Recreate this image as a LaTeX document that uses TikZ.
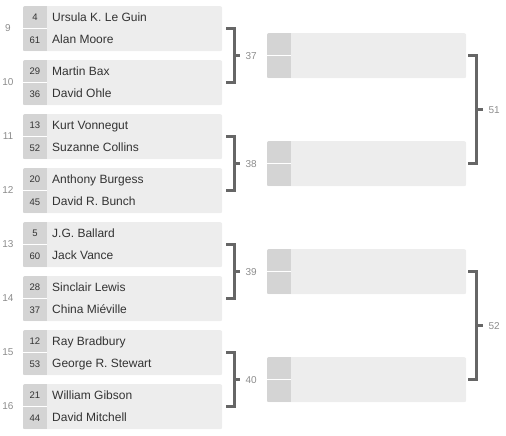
\documentclass[tikz,border=0pt]{standalone}
\usepackage{fontspec}
\setmainfont{Liberation Sans}
\usetikzlibrary{calc}
\definecolor{boxbg}{HTML}{EDEDED}
\definecolor{seedbg}{HTML}{D4D4D4}
\definecolor{txt}{HTML}{333333}
\definecolor{lbl}{HTML}{8C8C8C}
\definecolor{brk}{HTML}{666666}
\tikzset{
  matchbox/.style={fill=boxbg, rounded corners=2pt, minimum width=199pt, minimum height=45pt, anchor=north west, inner sep=0pt, draw=none},
  seedtxt/.style={font=\fontsize{9.5}{11}\selectfont, text=txt, anchor=base, inner sep=0pt},
  nametxt/.style={font=\fontsize{12}{14}\selectfont, text=txt, anchor=base west, inner sep=0pt},
  idlbl/.style={font=\fontsize{10}{12}\selectfont, text=lbl, inner sep=0pt},
  bracket/.style={draw=brk, line width=2.5pt},
  rowline/.style={draw=white, line width=1pt},
}
\begin{document}
\begin{tikzpicture}[x=1pt, y=-1pt]
\useasboundingbox (0,0) rectangle (506,436);
% first-round matches
\foreach \i/\t/\sa/\na/\sb/\nb in {
  9/6/4/{Ursula K. Le Guin}/61/{Alan Moore},
  10/60/29/{Martin Bax}/36/{David Ohle},
  11/114/13/{Kurt Vonnegut}/52/{Suzanne Collins},
  12/168/20/{Anthony Burgess}/45/{David R. Bunch},
  13/222/5/{J.G. Ballard}/60/{Jack Vance},
  14/276/28/{Sinclair Lewis}/37/{China Miéville},
  15/330/12/{Ray Bradbury}/53/{George R. Stewart},
  16/384/21/{William Gibson}/44/{David Mitchell}} {
  \node[matchbox] (m\i) at (23,\t) {};
  \begin{scope}
    \clip[rounded corners=2pt] (m\i.north west) rectangle (m\i.south east);
    \fill[seedbg] (m\i.north west) rectangle ([xshift=24pt]m\i.south west);
  \end{scope}
  \draw[rowline] (m\i.west) -- ([xshift=24pt]m\i.west);
  \node[seedtxt] (s\i a) at (35,{\t+11.25+3.4}) {\sa};
  \node[seedtxt] (s\i b) at (35,{\t+33.75+3.4}) {\sb};
  \node[nametxt] (n\i a) at (52,{\t+11.25+4}) {\na};
  \node[nametxt] (n\i b) at (52,{\t+33.75+4}) {\nb};
  \node[idlbl] (id\i) at (8,{\t+22.5}) {\i};
}
% second-round matches (empty)
\foreach \r/\t in {37/33, 38/141, 39/249, 40/357} {
  \node[matchbox] (m\r) at (267,\t) {};
  \begin{scope}
    \clip[rounded corners=2pt] (m\r.north west) rectangle (m\r.south east);
    \fill[seedbg] (m\r.north west) rectangle ([xshift=24pt]m\r.south west);
  \end{scope}
  \draw[rowline] (m\r.west) -- ([xshift=24pt]m\r.west);
}
% brackets round 1
\foreach \a/\b/\r in {9/10/37, 11/12/38, 13/14/39, 15/16/40} {
  \draw[bracket] ([xshift=4pt]m\a.east) -| ([xshift=12pt]m\b.east) -- ([xshift=4pt]m\b.east);
  \coordinate (bm\r) at ($([xshift=12pt]m\a.east)!0.5!([xshift=12pt]m\b.east)$);
  \node[idlbl, anchor=west] (bl\r) at ([xshift=11pt]bm\r) {\r};
  \draw[bracket] (bm\r) -- ([xshift=-5pt]bl\r.west);
}
% brackets round 2
\foreach \a/\b/\r in {37/38/51, 39/40/52} {
  \draw[bracket] ([xshift=2pt]m\a.east) -| ([xshift=10pt]m\b.east) -- ([xshift=2pt]m\b.east);
  \coordinate (bm\r) at ($([xshift=10pt]m\a.east)!0.5!([xshift=10pt]m\b.east)$);
  \node[idlbl, anchor=west] (bl\r) at ([xshift=12pt]bm\r) {\r};
  \draw[bracket] (bm\r) -- ([xshift=-5pt]bl\r.west);
}
\end{tikzpicture}
\end{document}
